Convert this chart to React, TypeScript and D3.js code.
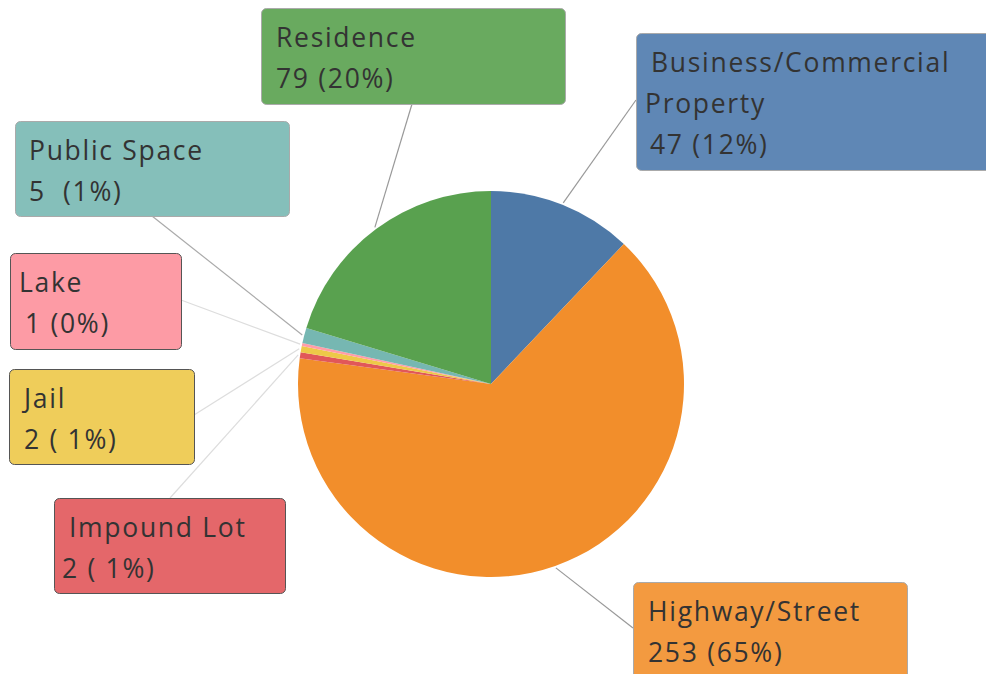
import React from "react";
import * as d3 from "d3";

const categories = ["Business/Commercial Property", "Highway/Street", "Impound Lot", "Jail", "Lake", "Public Space", "Residence"];
const values = [47, 253, 2, 2, 1, 5, 79];
const valueLabels = ["47 (12%)", "253 (65%)", "2 ( 1%)", "2 ( 1%)", "1 (0%)", "5  (1%)", "79 (20%)"];
const sliceColors = ["#4e79a7", "#f28e2b", "#e15759", "#edc948", "#ff9da7", "#76b7b2", "#59a14f"];
const boxColors = ["#5f87b5", "#f39a40", "#e4676a", "#efcd5a", "#fd9ba5", "#85bfba", "#69aa5f"];

// layout for annotation boxes: [x, y, w, h], text lines with x offsets, leader line endpoints
const boxLayout = [
  { x: 636, y: 33, w: 360, h: 137, lines: [["Business/Commercial", 651], ["Property", 645], ["47 (12%)", 650]], lx: 636, ly: 100, lineColor: "#999" },
  { x: 633, y: 582, w: 274, h: 110, lines: [["Highway/Street", 648], ["253 (65%)", 648]], lx: 633, ly: 628, lineColor: "#999" },
  { x: 54, y: 498, w: 231, h: 95, lines: [["Impound Lot", 69], ["2 ( 1%)", 62]], lx: 170, ly: 498, lineColor: "#ddd" },
  { x: 9, y: 369, w: 185, h: 95, lines: [["Jail", 24], ["2 ( 1%)", 24]], lx: 194, ly: 415, lineColor: "#ddd" },
  { x: 10, y: 253, w: 171, h: 96, lines: [["Lake", 19], ["1 (0%)", 25]], lx: 181, ly: 300, lineColor: "#ddd" },
  { x: 15, y: 121, w: 274, h: 95, lines: [["Public Space", 29], ["5  (1%)", 29]], lx: 152, ly: 216, lineColor: "#aaa" },
  { x: 261, y: 8, w: 304, h: 96, lines: [["Residence", 276], ["79 (20%)", 276]], lx: 412, ly: 104, lineColor: "#999" },
];

const W = 986, H = 674;
const cx = 491, cy = 384, R = 193;

export default function App() {
  const pie = d3.pie<number>().sort(null).value((d) => d)(values);
  const arc = d3.arc<d3.PieArcDatum<number>>().innerRadius(0).outerRadius(R);
  const edgeArc = d3.arc<d3.PieArcDatum<number>>().innerRadius(R + 2).outerRadius(R + 2);
  return (
    <svg width={W} height={H} style={{ position: "absolute", left: 0, top: 0 }}>
      <rect x={0} y={0} width={W} height={H} fill="#fff" />
      {pie.map((p, i) => {
        const b = boxLayout[i];
        const [ex, ey] = edgeArc.centroid(p);
        return (
          <line key={"l" + i} x1={b.lx} y1={b.ly} x2={cx + ex} y2={cy + ey} stroke={b.lineColor} strokeWidth={1.2} />
        );
      })}
      <g transform={`translate(${cx},${cy})`}>
        {pie.map((p, i) => (
          <path key={"s" + i} d={arc(p) || ""} fill={sliceColors[i]} />
        ))}
      </g>
      {boxLayout.map((b, i) => (
        <g key={"b" + i}>
          <rect x={b.x + 0.5} y={b.y + 0.5} width={b.w} height={b.h} rx={5} fill={boxColors[i]} stroke={i >= 2 && i <= 4 ? "#555" : "#aaa"} strokeWidth={1} />
          {b.lines.map((ln, j) => (
            <text key={j} x={ln[1] as number} y={b.y + 39 + j * 41} fontFamily="'Open Sans', sans-serif" fontSize={26.5} letterSpacing={1.7} fill="#333" style={{ whiteSpace: "pre" }}>
              {j === b.lines.length - 1 ? valueLabels[i] : (ln[0] as string)}
            </text>
          ))}
        </g>
      ))}
    </svg>
  );
}
